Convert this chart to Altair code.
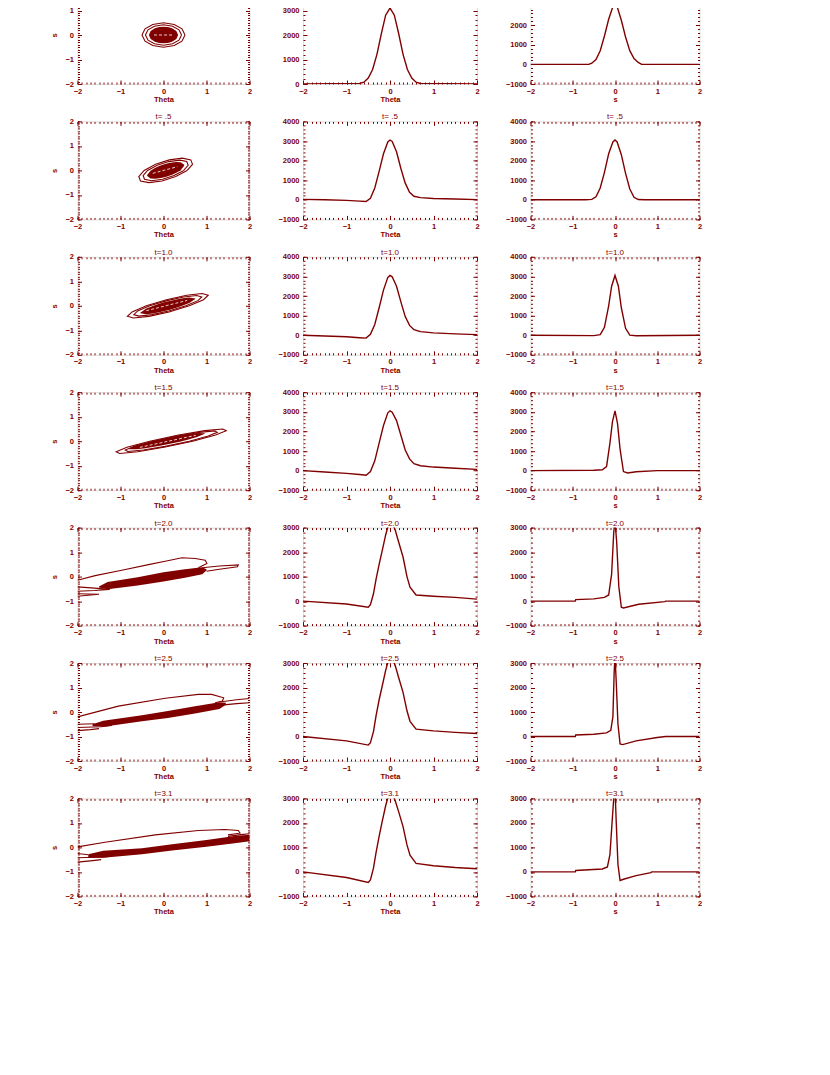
import altair as alt
import pandas as pd

RED = "#800000"
FONT = "Liberation Sans"

TITLES = ["t= 0", "t= .5", "t=1.0", "t=1.5", "t=2.0", "t=2.5", "t=3.1"]

# ---- tick positions ----
X_MAJOR = [-2, -1, 0, 1, 2]
X_MINOR = [round(-2 + 0.1 * i, 1) for i in range(41)]
Y0_MAJOR = [0, 1000, 2000, 3000, 4000]
Y4_MAJOR = [-1000, 0, 1000, 2000, 3000, 4000]
Y3_MAJOR = [-1000, 0, 1000, 2000, 3000]
Y4_MINOR = [-1000 + 200 * i for i in range(26)]
Y3_MINOR = [-1000 + 200 * i for i in range(21)]
Y0_MINOR = [200 * i for i in range(21)]

# ---- column 2 : distribution in Theta ----
TH_A = [-2, -0.7, -0.6, -0.5, -0.4, -0.3, -0.2, -0.1, 0, 0.1, 0.2, 0.3, 0.4, 0.5, 0.6, 0.7, 2]
F1 = [0, 20, 75, 240, 590, 1210, 2050, 2810, 3100, 2810, 2050, 1210, 590, 240, 75, 20, 0]
TH_B = [-2, -1.5, -1.0, -0.7, -0.55, -0.45, -0.35, -0.25, -0.15, -0.05, 0.0, 0.05, 0.15, 0.25, 0.35, 0.45, 0.55, 0.7, 1.0, 1.5, 2.0]
F2 = [20, 0, -30, -70, -90, 80, 600, 1450, 2350, 2950, 3050, 2980, 2450, 1600, 850, 380, 180, 110, 70, 40, 10]
F3 = [0, -40, -80, -130, -150, 50, 550, 1400, 2300, 2950, 3050, 2980, 2500, 1700, 950, 500, 280, 180, 120, 70, 30]
F4 = [0, -70, -140, -200, -240, -50, 500, 1400, 2300, 2950, 3050, 2980, 2550, 1800, 1050, 600, 350, 250, 180, 120, 60]
TH_C = [-2, -1.0, -0.5, -0.45, -0.38, -0.32, -0.25, -0.18, -0.1, -0.03, 0.05, 0.12, 0.2, 0.3, 0.39, 0.46, 0.6, 1.0, 1.5, 2.0]
F5 = [0, -120, -250, -150, 300, 900, 1500, 2050, 2700, 3150, 3200, 2900, 2400, 1800, 1000, 570, 250, 200, 150, 80]
F6 = [0, -180, -350, -250, 200, 850, 1500, 2050, 2700, 3150, 3200, 2900, 2400, 1800, 1050, 620, 300, 230, 170, 120]
F7 = [0, -230, -430, -330, 150, 800, 1450, 2050, 2700, 3150, 3200, 2900, 2450, 1850, 1100, 680, 350, 250, 180, 130]

# ---- column 3 : distribution in s ----
S1 = [-2, -0.62, -0.55, -0.45, -0.35, -0.25, -0.15, -0.05, 0, 0.05, 0.15, 0.25, 0.35, 0.45, 0.55, 0.63, 2]
G1 = [0, 0, 60, 250, 700, 1450, 2300, 2950, 3050, 2950, 2250, 1400, 700, 300, 100, 0, 0]
S2 = [-2, -0.7, -0.55, -0.45, -0.35, -0.25, -0.15, -0.05, 0, 0.05, 0.15, 0.25, 0.35, 0.45, 0.55, 0.7, 2]
G2 = [0, 0, 20, 150, 600, 1400, 2350, 2950, 3050, 2950, 2300, 1350, 550, 130, 15, 0, 0]
S3 = [-2, -0.5, -0.35, -0.25, -0.15, -0.08, 0, 0.08, 0.15, 0.25, 0.35, 0.5, 2]
G3 = [0, -20, 30, 400, 1500, 2500, 3050, 2500, 1400, 350, 0, -30, 0]
S4 = [-2, -0.5, -0.3, -0.2, -0.12, -0.06, 0, 0.06, 0.12, 0.2, 0.3, 0.5, 1.0, 2]
G4 = [0, 20, 40, 200, 1400, 2500, 3050, 2400, 1100, -50, -120, -60, 0, 0]
S5 = [-2, -0.94, -0.93, -0.5, -0.25, -0.15, -0.08, -0.03, 0.0, 0.04, 0.09, 0.15, 0.2, 0.56, 1.18, 1.2, 2.0]
G5 = [0, 0, 60, 90, 150, 250, 1100, 2800, 3300, 2400, 600, -250, -280, -130, -20, 0, 0]
S6 = [-2, -0.94, -0.93, -0.5, -0.2, -0.1, -0.05, -0.02, 0.0, 0.03, 0.07, 0.12, 0.18, 0.5, 1.0, 1.2, 2.0]
G6 = [0, 0, 60, 90, 150, 250, 800, 2600, 3300, 2200, 500, -300, -330, -180, -40, 0, 0]
S7 = [-2, -0.94, -0.93, -0.3, -0.18, -0.12, -0.07, -0.03, 0.0, 0.03, 0.07, 0.12, 0.2, 0.5, 0.85, 0.87, 2.0]
G7 = [0, 0, 60, 120, 200, 700, 2000, 3000, 3400, 2000, 300, -350, -300, -150, -30, 0, 0]

# ---- column 1 : contours in (Theta, s) ----
C1_A = [(0.5, 0), (0.43, 0.25), (0.25, 0.43), (0, 0.5), (-0.25, 0.43), (-0.43, 0.25), (-0.5, 0), (-0.43, -0.25), (-0.25, -0.43), (0, -0.5), (0.25, -0.43), (0.43, -0.25), (0.5, 0)]
C1_B = [(0.42, 0), (0.36, 0.21), (0.21, 0.36), (0, 0.42), (-0.21, 0.36), (-0.36, 0.21), (-0.42, 0), (-0.36, -0.21), (-0.21, -0.36), (0, -0.42), (0.21, -0.36), (0.36, -0.21), (0.42, 0)]
K1_T = [-0.34, -0.3, -0.2, -0.1, 0, 0.1, 0.2, 0.3, 0.34]
K1_LO = [0, -0.16, -0.275, -0.325, -0.34, -0.325, -0.275, -0.16, 0]
K1_HI = [0, 0.16, 0.275, 0.325, 0.34, 0.325, 0.275, 0.16, 0]
W1 = [(-0.22, 0.0), (0.22, 0.0)]

C2_A = [(0.55, 0), (0.675, 0.25), (0.635, 0.43), (0.44, 0.5), (0.135, 0.43), (-0.185, 0.25), (-0.45, 0), (-0.575, -0.25), (-0.535, -0.43), (-0.34, -0.5), (-0.035, -0.43), (0.285, -0.25), (0.55, 0)]
C2_B = [(0.47, 0), (0.574, 0.21), (0.541, 0.36), (0.378, 0.42), (0.121, 0.36), (-0.146, 0.21), (-0.37, 0), (-0.474, -0.21), (-0.441, -0.36), (-0.278, -0.42), (-0.021, -0.36), (0.246, -0.21), (0.47, 0)]
K2_T = [-0.38, -0.30, -0.20, -0.10, 0.0, 0.10, 0.20, 0.30, 0.40, 0.48]
K2_LO = [-0.23, -0.33, -0.34, -0.32, -0.29, -0.24, -0.18, -0.10, 0.01, 0.19]
K2_HI = [-0.19, -0.01, 0.10, 0.18, 0.24, 0.29, 0.32, 0.34, 0.33, 0.23]
W2 = [(-0.25, -0.12), (0.32, 0.15)]

C3_A = [(0.6, 0), (0.93, 0.25), (1.04, 0.43), (0.9, 0.5), (0.54, 0.43), (0.07, 0.25), (-0.4, 0), (-0.73, -0.25), (-0.84, -0.43), (-0.7, -0.5), (-0.34, -0.43), (0.13, -0.25), (0.6, 0)]
C3_B = [(0.52, 0), (0.80, 0.21), (0.89, 0.36), (0.77, 0.42), (0.47, 0.36), (0.08, 0.21), (-0.32, 0), (-0.60, -0.21), (-0.69, -0.36), (-0.57, -0.42), (-0.27, -0.36), (0.12, -0.21), (0.52, 0)]
K3_T = [-0.54, -0.4, -0.25, -0.1, 0.03, 0.17, 0.3, 0.45, 0.6, 0.74]
K3_LO = [-0.30, -0.34, -0.31, -0.26, -0.21, -0.15, -0.08, 0.01, 0.11, 0.28]
K3_HI = [-0.28, -0.11, -0.01, 0.08, 0.15, 0.21, 0.26, 0.31, 0.34, 0.30]
W3 = [(-0.4, -0.2), (0.55, 0.22)]

C4_A = [(0.68, 0), (1.21, 0.25), (1.46, 0.43), (1.38, 0.5), (0.96, 0.43), (0.35, 0.25), (-0.32, 0), (-0.85, -0.25), (-1.10, -0.43), (-1.02, -0.5), (-0.60, -0.43), (0.01, -0.25), (0.68, 0)]
C4_B = [(0.60, 0), (1.04, 0.21), (1.25, 0.36), (1.19, 0.42), (0.83, 0.36), (0.32, 0.21), (-0.24, 0), (-0.68, -0.21), (-0.89, -0.36), (-0.83, -0.42), (-0.47, -0.36), (0.04, -0.21), (0.60, 0)]
K4_T = [-0.80, -0.62, -0.42, -0.22, -0.02, 0.18, 0.38, 0.58, 0.78, 0.96]
K4_LO = [-0.33, -0.33, -0.29, -0.23, -0.17, -0.09, -0.02, 0.07, 0.17, 0.30]
K4_HI = [-0.30, -0.17, -0.07, 0.02, 0.09, 0.17, 0.23, 0.29, 0.33, 0.32]
W4 = [(-0.55, -0.25), (0.75, 0.24)]

C5_UP = [(-2.0, -0.15), (-1.59, 0.04), (-0.97, 0.26), (-0.35, 0.49), (0.04, 0.63), (0.43, 0.77), (0.74, 0.74), (0.97, 0.67), (1.01, 0.53), (0.81, 0.36)]
C5_L1 = [(-2.0, -0.42), (-1.6, -0.47), (-1.25, -0.52), (-1.6, -0.57), (-2.0, -0.60)]
C5_L2 = [(-2.0, -0.70), (-1.5, -0.72), (-2.0, -0.80)]
C5_R1 = [(0.9, 0.36), (1.3, 0.43), (1.74, 0.48), (1.72, 0.40), (1.3, 0.30), (1.0, 0.22)]
K5_T = [-1.5, -1.3, -0.6, 0.0, 0.5, 0.9, 1.0]
K5_LO = [-0.45, -0.52, -0.36, -0.2, -0.05, 0.10, 0.25]
K5_HI = [-0.40, -0.22, -0.03, 0.18, 0.30, 0.38, 0.30]

C6_UP = [(-2.0, -0.2), (-1.05, 0.24), (0.04, 0.56), (0.81, 0.72), (1.12, 0.72), (1.4, 0.58), (1.37, 0.45), (1.2, 0.38)]
C6_L1 = [(-2.0, -0.50), (-1.6, -0.48)]
C6_L2 = [(-2.0, -0.63), (-1.45, -0.60), (-1.2, -0.55)]
C6_L3 = [(-2.0, -0.76), (-1.7, -0.72), (-1.5, -0.68)]
C6_R1 = [(1.35, 0.42), (1.7, 0.50), (2.0, 0.55)]
C6_R2 = [(1.35, 0.28), (1.7, 0.34), (2.0, 0.38)]
K6_T = [-1.65, -1.4, -0.5, 0.1, 0.7, 1.3, 1.45]
K6_LO = [-0.58, -0.60, -0.38, -0.24, -0.07, 0.12, 0.30]
K6_HI = [-0.50, -0.36, -0.13, 0.04, 0.22, 0.40, 0.38]

C7_UP = [(-2.0, 0.02), (-1.36, 0.21), (-0.19, 0.51), (0.81, 0.69), (1.43, 0.73), (1.74, 0.69), (1.78, 0.58), (1.5, 0.51)]
C7_L1 = [(-2.0, -0.25), (-1.75, -0.30)]
C7_L2 = [(-2.0, -0.42), (-1.6, -0.40), (-1.3, -0.38)]
C7_L3 = [(-2.0, -0.60), (-1.7, -0.55), (-1.45, -0.50)]
C7_R1 = [(1.5, 0.45), (1.8, 0.52), (2.0, 0.56)]
C7_R2 = [(1.6, 0.22), (1.8, 0.28), (2.0, 0.33)]
K7_T = [-1.75, -1.4, -0.5, 0.2, 1.0, 1.7, 2.0]
K7_LO = [-0.42, -0.42, -0.28, -0.13, 0.03, 0.18, 0.25]
K7_HI = [-0.28, -0.14, -0.03, 0.13, 0.30, 0.48, 0.52]

W_COL = [172, 174, 169]
H = 98


def lines_df(contours):
    rows = []
    for cid, pts in enumerate(contours):
        for k, (t, s) in enumerate(pts):
            rows.append({"id": cid, "k": k, "t": t, "s": s})
    return pd.DataFrame(rows)


def sc(dom):
    return alt.Scale(domain=dom, nice=False, zero=False)


LABEL_KW = dict(labelFont=FONT, labelFontSize=7.5, labelFontWeight="bold", labelColor=RED, labelPadding=3,
                labelFlush=False, labelOverlap=False, format="d",
                titleFont=FONT, titleFontSize=7.5, titleColor=RED, titleFontWeight="bold")


def panel(data_layers, xdom, ydom, xmaj, xmin, ymaj, ymin, xtitle, ytitle, title, width):
    d = pd.DataFrame({"x": xdom, "y": ydom})
    layers = list(data_layers)
    cfgs = [("bottom", "left", 4, xmaj, ymaj, True), ("top", "right", 4, xmaj, ymaj, False),
            ("bottom", "left", 2, xmin, ymin, False), ("top", "right", 2, xmin, ymin, False)]
    for xo, yo, L, xv, yv, lab in cfgs:
        xa = dict(orient=xo, values=xv, offset=-L, tickSize=L, tickColor=RED, tickWidth=1,
                  domain=False, grid=False, labels=lab)
        ya = dict(orient=yo, values=yv, offset=-L, tickSize=L, tickColor=RED, tickWidth=1,
                  domain=False, grid=False, labels=lab)
        if lab:
            xa.update(LABEL_KW)
            ya.update(LABEL_KW)
            xa.update(title=xtitle, titlePadding=1)
            ya.update(title=ytitle, titlePadding=6, labelPadding=4)
        else:
            xa["title"] = None
            ya["title"] = None
        layers.append(
            alt.Chart(d).mark_point(opacity=0).encode(
                x=alt.X("x:Q", scale=sc(xdom), axis=alt.Axis(**xa)),
                y=alt.Y("y:Q", scale=sc(ydom), axis=alt.Axis(**ya)),
            )
        )
    return alt.layer(*layers).resolve_axis(x="independent", y="independent").properties(
        width=width, height=H,
        title=alt.TitleParams(title, font=FONT, fontSize=8, color=RED, fontWeight="normal", offset=-4),
    )


def curve(xs, ys, xdom, ydom):
    df = pd.DataFrame({"t": xs, "v": ys})
    return alt.Chart(df).mark_line(color=RED, strokeWidth=1.4, clip=True).encode(
        x=alt.X("t:Q", scale=sc(xdom), axis=None),
        y=alt.Y("v:Q", scale=sc(ydom), axis=None),
    )


def contour_layers(core_t, core_lo, core_hi, outlines, white=None):
    dom = [-2, 2]
    core = pd.DataFrame({"t": core_t, "lo": core_lo, "hi": core_hi})
    out = [
        alt.Chart(core).mark_area(color=RED, clip=True, opacity=1).encode(
            x=alt.X("t:Q", scale=sc(dom), axis=None),
            y=alt.Y("lo:Q", scale=sc(dom), axis=None),
            y2="hi:Q",
        ),
        alt.Chart(lines_df(outlines)).mark_line(color=RED, strokeWidth=1.1, clip=True).encode(
            x=alt.X("t:Q", scale=sc(dom), axis=None),
            y=alt.Y("s:Q", scale=sc(dom), axis=None),
            detail="id:N",
            order=alt.Order("k:Q"),
        ),
    ]
    if white:
        out.append(
            alt.Chart(lines_df([white])).mark_line(color="white", strokeWidth=0.8, strokeDash=[3, 2], clip=True).encode(
                x=alt.X("t:Q", scale=sc(dom), axis=None),
                y=alt.Y("s:Q", scale=sc(dom), axis=None),
                detail="id:N",
                order=alt.Order("k:Q"),
            )
        )
    return out


CONTOURS = [
    (K1_T, K1_LO, K1_HI, [C1_A, C1_B], W1),
    (K2_T, K2_LO, K2_HI, [C2_A, C2_B], W2),
    (K3_T, K3_LO, K3_HI, [C3_A, C3_B], W3),
    (K4_T, K4_LO, K4_HI, [C4_A, C4_B], W4),
    (K5_T, K5_LO, K5_HI, [C5_UP, C5_L1, C5_L2, C5_R1], None),
    (K6_T, K6_LO, K6_HI, [C6_UP, C6_L1, C6_L2, C6_L3, C6_R1, C6_R2], None),
    (K7_T, K7_LO, K7_HI, [C7_UP, C7_L1, C7_L2, C7_L3, C7_R1, C7_R2], None),
]
COL2 = [(TH_A, F1), (TH_B, F2), (TH_B, F3), (TH_B, F4), (TH_C, F5), (TH_C, F6), (TH_C, F7)]
COL3 = [(S1, G1), (S2, G2), (S3, G3), (S4, G4), (S5, G5), (S6, G6), (S7, G7)]
COL2_DOM = [[0, 4000]] + [[-1000, 4000]] * 3 + [[-1000, 3000]] * 3
COL2_MAJ = [Y0_MAJOR] + [Y4_MAJOR] * 3 + [Y3_MAJOR] * 3
COL2_MIN = [Y0_MINOR] + [Y4_MINOR] * 3 + [Y3_MINOR] * 3
COL3_DOM = [[-1000, 4000]] * 4 + [[-1000, 3000]] * 3
COL3_MAJ = [Y4_MAJOR] * 4 + [Y3_MAJOR] * 3
COL3_MIN = [Y4_MINOR] * 4 + [Y3_MINOR] * 3

rows = []
for i in range(7):
    kt, klo, khi, outl, wl = CONTOURS[i]
    p1 = panel(contour_layers(kt, klo, khi, outl, wl), [-2, 2], [-2, 2],
               X_MAJOR, X_MINOR, X_MAJOR, X_MINOR, "Theta", "s", TITLES[i], W_COL[0])
    xs, ys = COL2[i]
    p2 = panel([curve(xs, ys, [-2, 2], COL2_DOM[i])], [-2, 2], COL2_DOM[i],
               X_MAJOR, X_MINOR, COL2_MAJ[i], COL2_MIN[i], "Theta", None, TITLES[i], W_COL[1])
    xs, ys = COL3[i]
    p3 = panel([curve(xs, ys, [-2, 2], COL3_DOM[i])], [-2, 2], COL3_DOM[i],
               X_MAJOR, X_MINOR, COL3_MAJ[i], COL3_MIN[i], "s", None, TITLES[i], W_COL[2])
    rows.append(alt.hconcat(p1, p2, p3, spacing=53.5, bounds="flush"))

chart = alt.vconcat(*rows, spacing=135.4, bounds="flush").properties(
    padding={"left": 41.5, "top": -31, "right": 10, "bottom": 10}
).configure_view(stroke=RED, strokeWidth=2).configure(background="white")

chart.save("out.html", embed_options={"renderer": "svg", "actions": False})
